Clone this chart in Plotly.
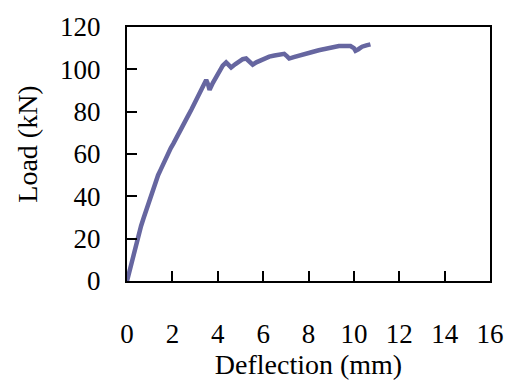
import plotly.graph_objects as go

deflection = [0.0, 0.1, 0.2, 0.3, 0.42, 0.52, 0.62, 0.74, 0.86, 0.97, 1.08, 1.22, 1.37, 1.48, 1.6,
              1.7, 1.81, 1.93, 2.05, 2.15, 2.25, 2.36, 2.47, 2.58, 2.69, 2.84, 2.98, 3.1, 3.2,
              3.3, 3.42, 3.49, 3.57, 3.64, 3.78, 3.93,
              4.08, 4.22, 4.37, 4.44, 4.59, 4.78, 4.95, 5.1, 5.25, 5.4, 5.54, 5.7, 5.83,
              6.05, 6.27, 6.5, 6.71, 6.93, 7.07, 7.15, 7.35, 7.58, 7.9, 8.17, 8.45, 8.75,
              9.05, 9.34, 9.6, 9.85, 10.0, 10.07, 10.2, 10.36, 10.55, 10.73]
load = [0.0, 4.5, 9.0, 13.5, 18.5, 22.0, 26.0, 30.0, 34.0, 37.8, 41.0, 45.5, 50.0, 52.5, 55.5,
        58.0, 60.0, 62.8, 65.0, 67.2, 69.0, 71.8, 74.0, 76.2, 78.0, 81.0, 84.0, 86.5, 88.5,
        90.5, 92.4, 95.0, 93.0, 90.3, 93.5, 96.5,
        99.5, 101.7, 103.3, 102.5, 100.9, 102.5, 104.0, 104.8, 105.1, 103.5, 102.2, 103.3, 104.0,
        105.0, 106.0, 106.5, 106.9, 107.3, 106.0, 105.1, 105.8, 106.6, 107.3, 108.2, 109.0, 109.8,
        110.5, 111.0, 111.0, 111.0, 110.0, 108.8, 109.5, 110.7, 111.3, 111.8]

x_ticks = [0, 2, 4, 6, 8, 10, 12, 14, 16]
y_ticks = [0, 20, 40, 60, 80, 100, 120]

font_family = "Liberation Serif, Times New Roman, serif"

fig = go.Figure()
fig.add_trace(go.Scatter(
    x=deflection, y=load, mode="lines",
    line=dict(color="rgb(102,102,160)", width=4.5),
    showlegend=False,
))

axis_common = dict(
    showline=True, linecolor="black", linewidth=2, mirror=True,
    ticks="inside", ticklen=10, tickwidth=2, tickcolor="black",
    showgrid=False, zeroline=False,
    tickfont=dict(family=font_family, size=27, color="black"),
)

fig.update_layout(
    width=516, height=381,
    margin=dict(l=127, r=24, t=24, b=99),
    paper_bgcolor="white", plot_bgcolor="white",
    font=dict(family=font_family, color="black"),
    xaxis=dict(range=[0, 16], tickvals=x_ticks, ticklabelstandoff=28,
               title=dict(text="Deflection (mm)", font=dict(size=28), standoff=0),
               **axis_common),
    yaxis=dict(range=[0, 120], tickvals=y_ticks, ticklabelstandoff=19,
               **axis_common),
    annotations=[dict(
        text="Load (kN)", textangle=-90, showarrow=False,
        xref="paper", yref="paper", x=(27 - 127) / 365, y=(282 - 143) / 258,
        xanchor="center", yanchor="middle",
        font=dict(family=font_family, size=28, color="black"),
    )],
)

fig.write_html("out.html")
